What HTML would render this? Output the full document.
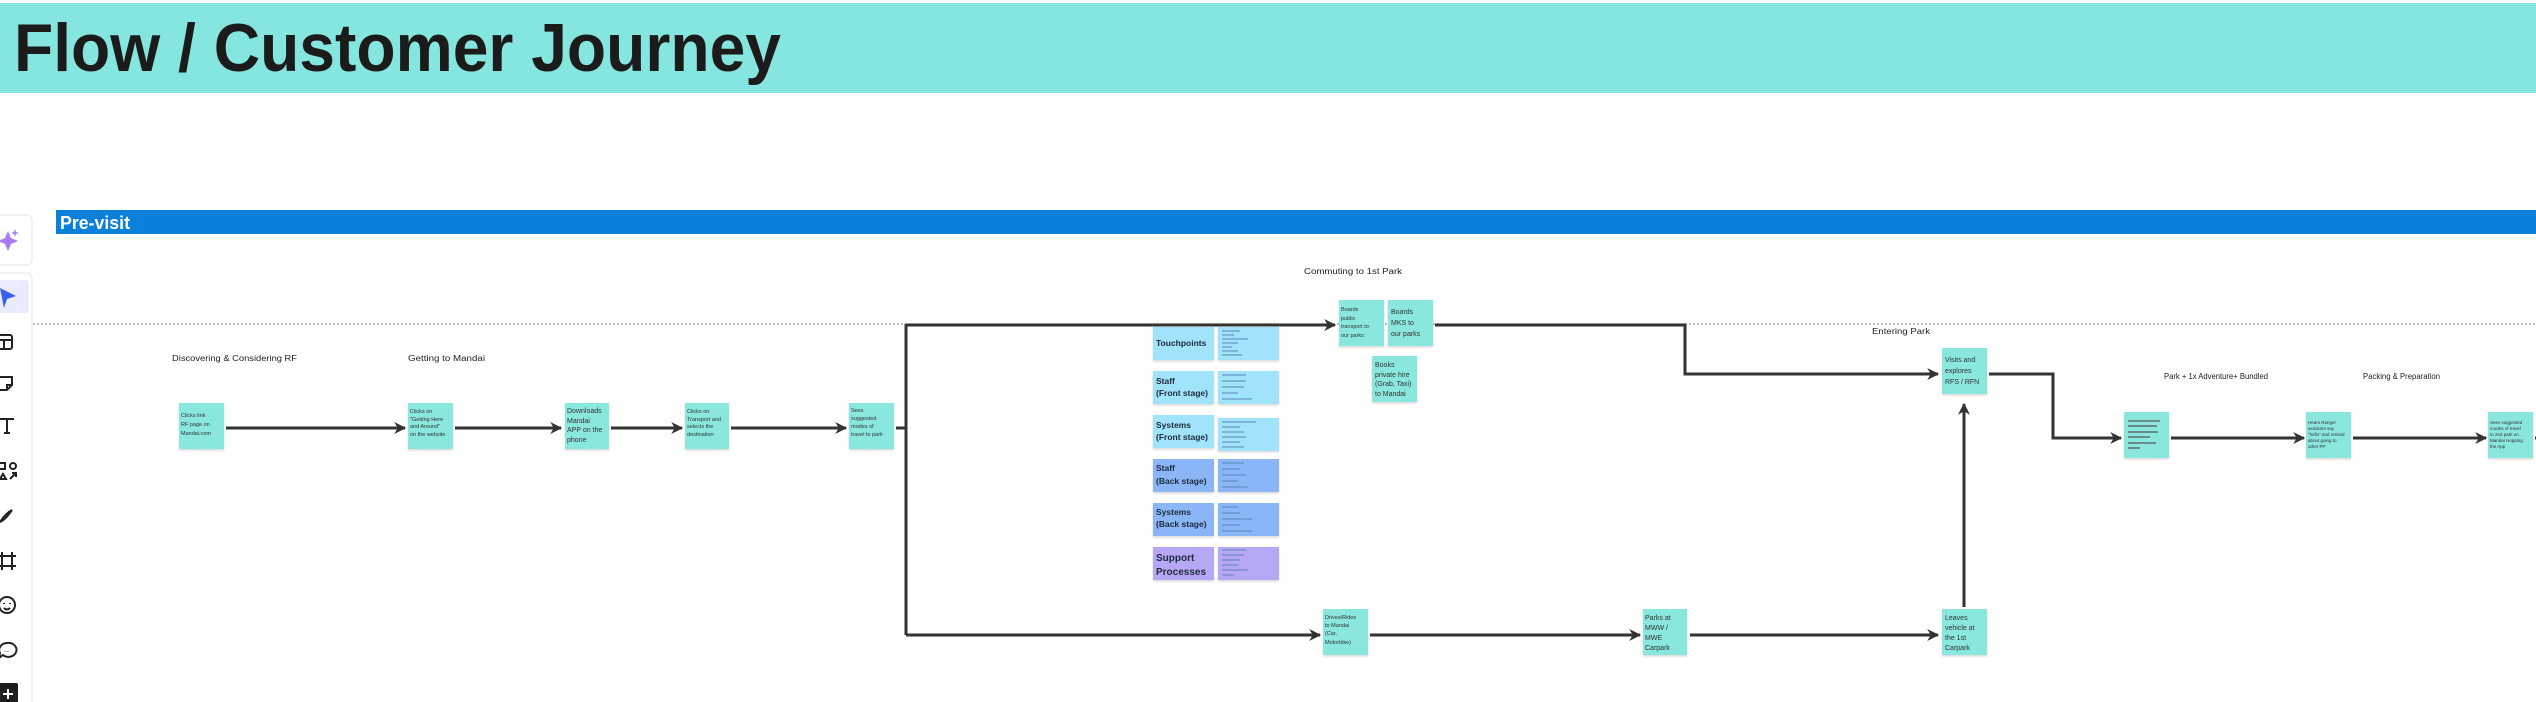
<!DOCTYPE html>
<html><head><meta charset="utf-8"><style>
html,body{margin:0;padding:0;background:#fff;width:2536px;height:702px;overflow:hidden}
svg{display:block}
text{font-family:"Liberation Sans",sans-serif}
</style></head><body>
<svg width="2536" height="702" viewBox="0 0 2536 702" xmlns="http://www.w3.org/2000/svg">
<defs>
<marker id="ah" viewBox="0 0 10 10" refX="9" refY="5" markerWidth="4" markerHeight="4" orient="auto"><path d="M0,0 L10,5 L0,10 L3,5 z" fill="#333"/></marker>
<filter id="sh" x="-10%" y="-10%" width="130%" height="130%"><feDropShadow dx="0" dy="1.5" stdDeviation="1" flood-color="#000" flood-opacity="0.15"/></filter>
</defs>
<!-- header -->
<rect x="0" y="3" width="2536" height="90" fill="#84e6df"/>
<text x="14" y="71" font-size="68" font-weight="bold" fill="#1b1b1b" textLength="767" lengthAdjust="spacingAndGlyphs">Flow / Customer Journey</text>
<!-- pre-visit bar -->
<rect x="56" y="210" width="2480" height="24" fill="#0a80db"/>
<text x="60" y="229" font-size="18" font-weight="bold" fill="#fff" textLength="70" lengthAdjust="spacingAndGlyphs">Pre-visit</text>
<!-- dotted line -->
<line x1="33" y1="324" x2="2536" y2="324" stroke="#999" stroke-width="1.2" stroke-dasharray="2,2"/>
<!-- toolbar -->
<rect x="-10" y="215" width="42" height="50" rx="6" fill="#fff" stroke="#e6e6ee"/>
<rect x="-10" y="273" width="42" height="440" rx="6" fill="#fff" stroke="#e6e6ee"/>
<path d="M8,231 L11,238 L18,241 L11,244 L8,251 L5,244 L-2,241 L5,238 z" fill="#a77cf5"/>
<path d="M15,229 L16,232 L19,233 L16,234 L15,237 L14,234 L11,233 L14,232z" fill="#a77cf5"/>
<rect x="-4" y="280" width="33" height="33" rx="3" fill="#e8ecfd"/>
<path d="M0,288 L16,296 L7,299 L4,308 z" fill="#3a5ef5"/>
<g fill="none" stroke="#222" stroke-width="2">
<rect x="-2" y="335" width="14" height="14" rx="2"/><line x1="-2" y1="340" x2="12" y2="340"/><line x1="4" y1="340" x2="4" y2="349"/>
<path d="M-2,377 h14 v8 l-5,5 h-9 z"/><path d="M12,385 h-5 v5"/>
<path d="M0,419 h14 M7,419 v14 M4,433 h6"/>
<rect x="-1" y="463" width="6" height="6"/><circle cx="13" cy="466" r="3"/><path d="M0,479 l3,-5 l3,5z"/><path d="M10,479 l6,-6 M12,473 h4 v4"/>
<path d="M0,522 c4,-6 8,-10 12,-12 c-3,4 -6,9 -12,12z"/>
<path d="M2,552 v18 M12,552 v18 M-2,556 h18 M-2,566 h18"/>
<circle cx="7" cy="605" r="8"/><path d="M4,603 v1 M10,603 v1 M4,608 q3,3 6,0"/>
<path d="M7,643 a8,7 0 1 1 -4,12 l-4,3 l1,-5 a8,7 0 0 1 7,-10z"/>
</g>
<text x="4" y="652" font-size="7" fill="#222">...</text>
<rect x="-2" y="683" width="20" height="20" rx="2" fill="#1f1f1f"/>
<path d="M8,689 v10 M3,694 h10" stroke="#fff" stroke-width="2"/>
<!-- section labels -->
<g font-size="8" fill="#222">
<text x="172" y="361" textLength="125" lengthAdjust="spacingAndGlyphs">Discovering &amp; Considering RF</text>
<text x="408" y="361" textLength="77" lengthAdjust="spacingAndGlyphs">Getting to Mandai</text>
<text x="1304" y="274" textLength="98" lengthAdjust="spacingAndGlyphs">Commuting to 1st Park</text>
<text x="1872" y="334" textLength="58" lengthAdjust="spacingAndGlyphs">Entering Park</text>
<text x="2164" y="379" textLength="104" lengthAdjust="spacingAndGlyphs">Park + 1x Adventure+ Bundled</text>
<text x="2363" y="379" textLength="77" lengthAdjust="spacingAndGlyphs">Packing &amp; Preparation</text>
</g>
<!-- connectors -->
<g fill="none" stroke="#333" stroke-width="3">
<line x1="226" y1="428" x2="405" y2="428" marker-end="url(#ah)"/>
<line x1="455" y1="428" x2="561" y2="428" marker-end="url(#ah)"/>
<line x1="611" y1="428" x2="682" y2="428" marker-end="url(#ah)"/>
<line x1="731" y1="428" x2="846" y2="428" marker-end="url(#ah)"/>
<path d="M896,428 H906"/>
<path d="M906,324 V635"/>
<line x1="906" y1="325" x2="1335" y2="325" marker-end="url(#ah)"/>
<line x1="906" y1="635" x2="1320" y2="635" marker-end="url(#ah)"/>
<path d="M1435,325 H1685 V374 H1938" marker-end="url(#ah)"/>
<line x1="1370" y1="635" x2="1640" y2="635" marker-end="url(#ah)"/>
<line x1="1690" y1="635" x2="1938" y2="635" marker-end="url(#ah)"/>
<line x1="1964" y1="607" x2="1964" y2="404" marker-end="url(#ah)"/>
<path d="M1989,374 H2053 V438 H2121" marker-end="url(#ah)"/>
<line x1="2171" y1="438" x2="2304" y2="438" marker-end="url(#ah)"/>
<line x1="2353" y1="438" x2="2486" y2="438" marker-end="url(#ah)"/>
<line x1="2535" y1="438" x2="2540" y2="438"/>
</g>
<!-- sticky notes -->
<g filter="url(#sh)" fill="#89e7de">
<rect x="179" y="403" width="45" height="46"/>
<rect x="408" y="403" width="45" height="46"/>
<rect x="565" y="403" width="44" height="46"/>
<rect x="685" y="403" width="44" height="46"/>
<rect x="849" y="403" width="45" height="46"/>
<rect x="1339" y="300" width="45" height="46"/>
<rect x="1388" y="300" width="45" height="46"/>
<rect x="1372" y="356" width="45" height="46"/>
<rect x="1942" y="348" width="45" height="46"/>
<rect x="1323" y="609" width="45" height="46"/>
<rect x="1643" y="609" width="44" height="46"/>
<rect x="1942" y="609" width="45" height="46"/>
<rect x="2124" y="412" width="45" height="46"/>
<rect x="2306" y="412" width="45" height="46"/>
<rect x="2488" y="412" width="45" height="46"/>
</g>
<g fill="#333">
<g font-size="5.5">
<text x="181" y="417">Clicks link</text><text x="181" y="426">RF page on</text><text x="181" y="435">Mandai.com</text>
<text x="410" y="413">Clicks on</text><text x="410" y="421">"Getting Here</text><text x="410" y="428">and Around"</text><text x="410" y="436">on the website</text>
<text x="687" y="413">Clicks on</text><text x="687" y="421">Transport and</text><text x="687" y="428">selects the</text><text x="687" y="436">destination</text>
<text x="851" y="412">Sees</text><text x="851" y="420">suggested</text><text x="851" y="428">modes of</text><text x="851" y="436">travel to park</text>
<text x="1341" y="311">Boards</text><text x="1341" y="320">public</text><text x="1341" y="328">transport to</text><text x="1341" y="337">our parks</text>
<text x="1325" y="619">Drives/Rides</text><text x="1325" y="627">to Mandai</text><text x="1325" y="635">(Car,</text><text x="1325" y="644">Motorbike)</text>
<text x="2308" y="424" font-size="4.5">Hears Ranger</text><text x="2308" y="430" font-size="4.5">assistant say</text><text x="2308" y="436" font-size="4.5">"hello" and remind</text><text x="2308" y="442" font-size="4.5">about going to</text><text x="2308" y="448" font-size="4.5">other PP</text>
<text x="2490" y="424" font-size="4.5">Sees suggested</text><text x="2490" y="430" font-size="4.5">modes of travel</text><text x="2490" y="436" font-size="4.5">to 2nd park on</text><text x="2490" y="442" font-size="4.5">Mandai Hopping</text><text x="2490" y="448" font-size="4.5">the App</text>
</g>
<g font-size="7">
<text x="567" y="413">Downloads</text><text x="567" y="423">Mandai</text><text x="567" y="432">APP on the</text><text x="567" y="442">phone</text>
<text x="1391" y="314">Boards</text><text x="1391" y="325">MKS to</text><text x="1391" y="336">our parks</text>
<text x="1375" y="367">Books</text><text x="1375" y="377">private hire</text><text x="1375" y="386">(Grab, Taxi)</text><text x="1375" y="396">to Mandai</text>
<text x="1945" y="362">Visits and</text><text x="1945" y="373">explores</text><text x="1945" y="384">RFS / RFN</text>
<text x="1645" y="620">Parks at</text><text x="1645" y="630">MWW /</text><text x="1645" y="640">MWE</text><text x="1645" y="650">Carpark</text>
<text x="1945" y="620">Leaves</text><text x="1945" y="630">vehicle at</text><text x="1945" y="640">the 1st</text><text x="1945" y="650">Carpark</text>
</g>
</g>
<g stroke="#555" stroke-width="1.3">
<line x1="2128" y1="421" x2="2160" y2="421"/><line x1="2128" y1="426" x2="2157" y2="426"/><line x1="2128" y1="432" x2="2158" y2="432"/><line x1="2128" y1="437" x2="2150" y2="437"/><line x1="2128" y1="443" x2="2156" y2="443"/><line x1="2128" y1="448" x2="2140" y2="448"/>
</g>
<!-- legend -->
<g filter="url(#sh)">
<rect x="1153" y="327" width="61" height="33" fill="#a0e3fa"/><rect x="1218" y="327" width="61" height="33" fill="#a0e3fa"/>
<rect x="1153" y="371" width="61" height="33" fill="#a0e3fa"/><rect x="1218" y="371" width="61" height="33" fill="#a0e3fa"/>
<rect x="1153" y="415" width="61" height="33" fill="#a0e3fa"/><rect x="1218" y="418" width="61" height="33" fill="#a0e3fa"/>
<rect x="1153" y="459" width="61" height="33" fill="#8ab6f8"/><rect x="1218" y="459" width="61" height="33" fill="#8ab6f8"/>
<rect x="1153" y="503" width="61" height="33" fill="#8ab6f8"/><rect x="1218" y="503" width="61" height="33" fill="#8ab6f8"/>
<rect x="1153" y="547" width="61" height="33" fill="#b7a8f6"/><rect x="1218" y="547" width="61" height="33" fill="#b7a8f6"/>
</g>
<g font-size="8.5" font-weight="bold" fill="#1d2a3a">
<text x="1156" y="346">Touchpoints</text>
<text x="1156" y="384">Staff</text><text x="1156" y="396">(Front stage)</text>
<text x="1156" y="428">Systems</text><text x="1156" y="440">(Front stage)</text>
<text x="1156" y="471">Staff</text><text x="1156" y="484">(Back stage)</text>
<text x="1156" y="515">Systems</text><text x="1156" y="527">(Back stage)</text>
<text x="1156" y="561" font-size="10">Support</text><text x="1156" y="575" font-size="10">Processes</text>
</g>
<g stroke="#5d86b8" stroke-width="1.2" opacity="0.8">
<path d="M1222,331h18M1222,335h12M1222,339h26M1222,343h16M1222,347h10M1222,351h16M1222,355h20"/>
<path d="M1222,375h24M1222,381h24M1222,387h22M1222,393h16M1222,399h30"/>
<path d="M1222,422h34M1222,427h18M1222,432h22M1222,437h24M1222,442h18M1222,447h22"/>
<path d="M1222,463h22M1222,469h18M1222,475h24M1222,481h16M1222,487h26"/>
<path d="M1222,507h16M1222,513h18M1222,519h30M1222,525h18M1222,531h30"/>
<path d="M1222,550h24M1222,555h22M1222,560h18M1222,565h16M1222,570h26M1222,575h12"/>
</g>
</svg>
</body></html>
